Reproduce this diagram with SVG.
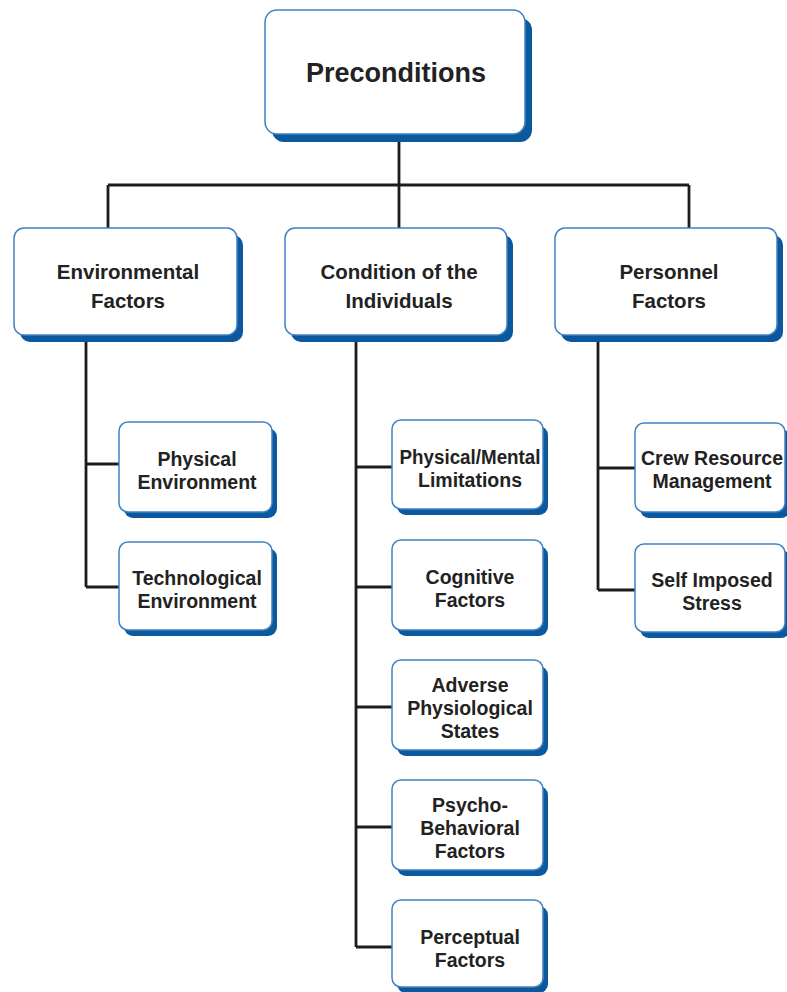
<svg xmlns="http://www.w3.org/2000/svg" width="787" height="992" viewBox="0 0 787 992">
  <style>
    .shadow { fill: #0b589f; }
    .box { fill: #ffffff; stroke: #3f82c4; stroke-width: 1.5; }
    .lbl { font-family: "Liberation Sans", Arial, sans-serif; font-weight: bold; fill: #222222; text-anchor: middle; }
    .l1 { font-size: 27px; }
    .l2 { font-size: 20.5px; }
    .l3 { font-size: 19.5px; }
    .wire { fill: none; stroke: #1c1c1c; stroke-width: 2.8; }
  </style>

  <!-- connectors -->
  <g id="connectors">
    <path class="wire" d="M399 134 V185 M108 185 H689 M108 185 V229 M399 185 V229 M689 185 V229"/>
    <path class="wire" d="M86 335 V587 M86 464 H119 M86 587 H119"/>
    <path class="wire" d="M356 335 V947 M356 467 H392 M356 587 H392 M356 707 H392 M356 827 H392 M356 947 H392"/>
    <path class="wire" d="M598 335 V590 M598 468 H635 M598 590 H635"/>
  </g>

  <!-- top level -->
  <g id="preconditions">
    <rect class="shadow" x="272" y="18" width="260" height="124" rx="12"/>
    <rect class="box" x="265" y="10" width="260" height="124" rx="12"/>
    <text class="lbl l1" x="396" y="82">Preconditions</text>
  </g>

  <!-- second level -->
  <g id="environmental-factors">
    <rect class="shadow" x="20" y="235" width="223" height="107" rx="10"/>
    <rect class="box" x="14" y="228" width="223" height="107" rx="10"/>
    <text class="lbl l2" x="128" y="279">Environmental</text>
    <text class="lbl l2" x="128" y="308">Factors</text>
  </g>
  <g id="condition-of-individuals">
    <rect class="shadow" x="291" y="235" width="222" height="107" rx="10"/>
    <rect class="box" x="285" y="228" width="222" height="107" rx="10"/>
    <text class="lbl l2" x="399" y="279">Condition of the</text>
    <text class="lbl l2" x="399" y="308">Individuals</text>
  </g>
  <g id="personnel-factors">
    <rect class="shadow" x="561" y="235" width="222" height="107" rx="10"/>
    <rect class="box" x="555" y="228" width="222" height="107" rx="10"/>
    <text class="lbl l2" x="669" y="279">Personnel</text>
    <text class="lbl l2" x="669" y="308">Factors</text>
  </g>

  <!-- environmental children -->
  <g id="physical-environment">
    <rect class="shadow" x="124" y="428" width="153" height="90" rx="9"/>
    <rect class="box" x="119" y="422" width="153" height="90" rx="9"/>
    <text class="lbl l3" x="197" y="466">Physical</text>
    <text class="lbl l3" x="197" y="489">Environment</text>
  </g>
  <g id="technological-environment">
    <rect class="shadow" x="124" y="548" width="153" height="88" rx="9"/>
    <rect class="box" x="119" y="542" width="153" height="88" rx="9"/>
    <text class="lbl l3" x="197" y="585">Technological</text>
    <text class="lbl l3" x="197" y="608">Environment</text>
  </g>

  <!-- condition children -->
  <g id="physical-mental-limitations">
    <rect class="shadow" x="397" y="426" width="151" height="89" rx="9"/>
    <rect class="box" x="392" y="420" width="151" height="89" rx="9"/>
    <text class="lbl l3" x="470" y="464" textLength="141" lengthAdjust="spacingAndGlyphs">Physical/Mental</text>
    <text class="lbl l3" x="470" y="487">Limitations</text>
  </g>
  <g id="cognitive-factors">
    <rect class="shadow" x="397" y="546" width="151" height="90" rx="9"/>
    <rect class="box" x="392" y="540" width="151" height="90" rx="9"/>
    <text class="lbl l3" x="470" y="584">Cognitive</text>
    <text class="lbl l3" x="470" y="607">Factors</text>
  </g>
  <g id="adverse-physiological-states">
    <rect class="shadow" x="397" y="666" width="151" height="90" rx="9"/>
    <rect class="box" x="392" y="660" width="151" height="90" rx="9"/>
    <text class="lbl l3" x="470" y="692">Adverse</text>
    <text class="lbl l3" x="470" y="715">Physiological</text>
    <text class="lbl l3" x="470" y="738">States</text>
  </g>
  <g id="psycho-behavioral-factors">
    <rect class="shadow" x="397" y="786" width="151" height="90" rx="9"/>
    <rect class="box" x="392" y="780" width="151" height="90" rx="9"/>
    <text class="lbl l3" x="470" y="812">Psycho-</text>
    <text class="lbl l3" x="470" y="835">Behavioral</text>
    <text class="lbl l3" x="470" y="858">Factors</text>
  </g>
  <g id="perceptual-factors">
    <rect class="shadow" x="397" y="906" width="151" height="87" rx="9"/>
    <rect class="box" x="392" y="900" width="151" height="87" rx="9"/>
    <text class="lbl l3" x="470" y="944">Perceptual</text>
    <text class="lbl l3" x="470" y="967">Factors</text>
  </g>

  <!-- personnel children -->
  <g id="crew-resource-management">
    <rect class="shadow" x="640" y="429" width="150" height="89" rx="9"/>
    <rect class="box" x="635" y="423" width="150" height="89" rx="9"/>
    <text class="lbl l3" x="712" y="465">Crew Resource</text>
    <text class="lbl l3" x="712" y="488">Management</text>
  </g>
  <g id="self-imposed-stress">
    <rect class="shadow" x="640" y="550" width="150" height="88" rx="9"/>
    <rect class="box" x="635" y="544" width="150" height="88" rx="9"/>
    <text class="lbl l3" x="712" y="587">Self Imposed</text>
    <text class="lbl l3" x="712" y="610">Stress</text>
  </g>
</svg>
